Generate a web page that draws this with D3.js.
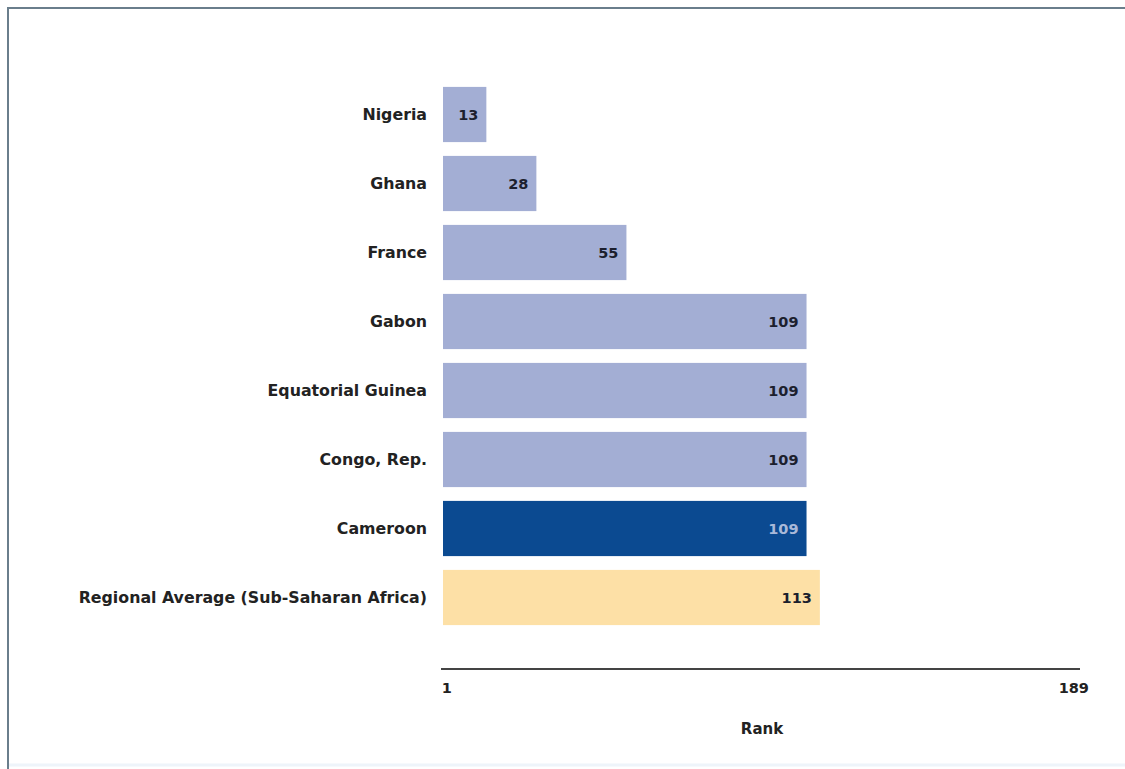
<!DOCTYPE html>
<html>
<head>
<meta charset="utf-8">
<script src="https://cdn.jsdelivr.net/npm/d3@7"></script>
<style>
  body { margin: 0; background: #fff; overflow: hidden; }
  text { font-family: 'DejaVu Sans', 'Noto Sans', sans-serif; }
</style>
</head>
<body>
<script>
// chart data
let countries = ['Nigeria', 'Ghana', 'France', 'Gabon', 'Equatorial Guinea', 'Congo, Rep.', 'Cameroon', 'Regional Average (Sub-Saharan Africa)']
let ranks = [13, 28, 55, 109, 109, 109, 109, 113]
let barColors = ['#a3aed4', '#a3aed4', '#a3aed4', '#a3aed4', '#a3aed4', '#a3aed4', '#0b4a91', '#fde0a6']
let valueColors = ['#1c1f2e', '#1c1f2e', '#1c1f2e', '#1c1f2e', '#1c1f2e', '#1c1f2e', '#a9b9d9', '#1c1f2e']
let axisTicks = [1, 189]

let m = {
  width: 1125,
  height: 769,
  left: 443,
  right: 1080,
  top: 80,
  bottom: 632,
  axisY: 669,
}

let svg = d3.select('body')
  .append('svg')
  .attr('width', m.width)
  .attr('height', m.height)
  .style('display', 'block')

// faint bottom edge, then the frame (top + left only)
svg.append('line')
  .attr('x1', 9).attr('x2', m.width)
  .attr('y1', 765).attr('y2', 765)
  .attr('stroke', '#eef4fa')
  .attr('stroke-width', 3)

svg.append('path')
  .attr('d', 'M8,' + m.height + 'V8H' + m.width)
  .attr('fill', 'none')
  .attr('stroke', '#6a7e8c')
  .attr('stroke-width', 2)

let xScale = d3.scaleLinear()
  .domain([0, 191])
  .range([m.left, m.right])

let yScale = d3.scaleBand()
  .domain(countries)
  .range([m.top, m.bottom])
  .paddingInner(0.2)
  .paddingOuter(0.1)

// bars
svg.selectAll('.bar')
  .data(countries)
  .enter()
  .append('rect')
    .attr('class', 'bar')
    .attr('x', xScale(0))
    .attr('y', function(d) { return yScale(d) })
    .attr('width', function(d, i) { return xScale(ranks[i]) - xScale(0) })
    .attr('height', yScale.bandwidth())
    .attr('fill', function(d, i) { return barColors[i] })

// value labels inside bars
svg.selectAll('.val')
  .data(countries)
  .enter()
  .append('text')
    .attr('class', 'val')
    .attr('x', function(d, i) { return xScale(ranks[i]) - 8 })
    .attr('y', function(d) { return yScale(d) + yScale.bandwidth() / 2 })
    .attr('dy', '0.35em')
    .attr('text-anchor', 'end')
    .attr('font-size', 14.5)
    .attr('font-weight', 'bold')
    .attr('fill', function(d, i) { return valueColors[i] })
    .text(function(d, i) { return ranks[i] })

// category labels
svg.selectAll('.cat')
  .data(countries)
  .enter()
  .append('text')
    .attr('class', 'cat')
    .attr('x', 427)
    .attr('y', function(d) { return yScale(d) + yScale.bandwidth() / 2 })
    .attr('dy', '0.35em')
    .attr('text-anchor', 'end')
    .attr('font-size', 15.8)
    .attr('font-weight', 'bold')
    .attr('fill', '#222')
    .text(function(d) { return d })

// bottom axis: only the end ranks
let xAxis = d3.axisBottom(xScale)
  .tickValues(axisTicks)
  .tickSize(0)
  .tickPadding(14)
  .tickFormat(d3.format('d'))

let gAxis = svg.append('g')
  .attr('transform', 'translate(0,' + m.axisY + ')')
  .call(xAxis)

gAxis.select('.domain')
  .attr('d', 'M' + (m.left - 2) + ',0H' + m.right)
  .attr('stroke', '#444')
  .attr('stroke-width', 2)

gAxis.selectAll('.tick text')
  .attr('font-family', "'DejaVu Sans', sans-serif")
  .attr('font-size', 14.5)
  .attr('font-weight', 'bold')
  .attr('fill', '#222')

svg.append('text')
  .attr('x', 762)
  .attr('y', 734)
  .attr('text-anchor', 'middle')
  .attr('font-size', 15)
  .attr('font-weight', 'bold')
  .attr('fill', '#222')
  .text('Rank')
</script>
</body>
</html>
